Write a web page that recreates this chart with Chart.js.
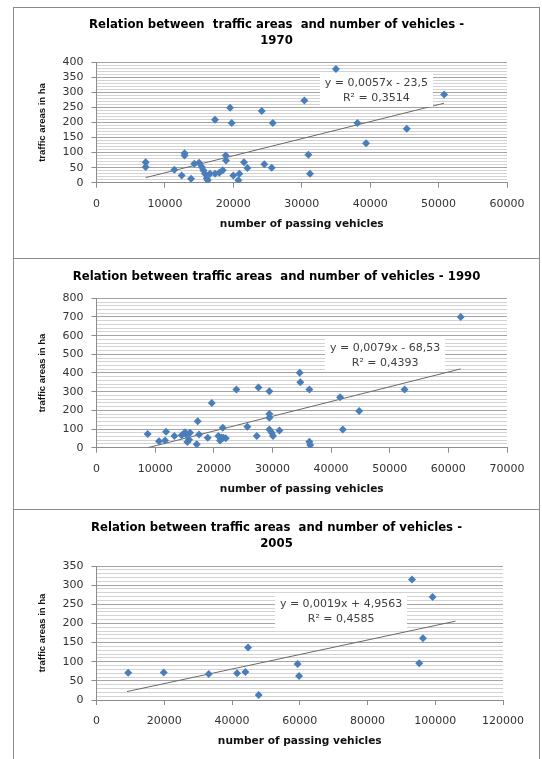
<!DOCTYPE html>
<html>
<head>
<meta charset="utf-8">
<script src="https://cdn.jsdelivr.net/npm/chart.js@4.4.1/dist/chart.umd.min.js"></script>
<style>
html,body{margin:0;padding:0;background:#fff;width:542px;height:759px;overflow:hidden}
.box{position:absolute;left:13px;width:527px;box-sizing:border-box;border:1px solid #8a8a8a;border-bottom:none;background:#fff}
.box canvas{position:absolute;left:0;top:0}
</style>
</head>
<body>
<div class="box" style="top:7px;height:251px"><canvas id="c1970" width="525" height="250"></canvas></div>
<div class="box" style="top:258px;height:251px"><canvas id="c1990" width="525" height="250"></canvas></div>
<div class="box" style="top:509px;height:250px"><canvas id="c2005" width="525" height="249"></canvas></div>
<script>
// ---------- DATA ----------
// 1970
const title1970 = ['Relation between  traffic areas  and number of vehicles -', '1970'];
const vehicles1970 = [7190, 7190, 11380, 12450, 12870, 12870, 13820, 14300, 14990, 15380, 15620, 15860, 16110, 16250, 16590, 17320, 17320, 17950, 18450, 18890, 18930, 19520, 19760, 20000, 20730, 20880, 21560, 22050, 24150, 24530, 25610, 25760, 30380, 30970, 31210, 35000, 38130, 39400, 45350, 50810];
const areas1970    = [68, 52, 43, 24, 98, 90, 13, 63, 66, 52, 41, 30, 15, 8, 30, 209, 30, 33, 41, 90, 74, 249, 198, 24, 8, 30, 68, 49, 238, 61, 50, 198, 273, 93, 30, 378, 198, 131, 179, 293];
const trendX1970 = [7190, 50800];
const trendY1970 = [17, 264];
const xTicks1970 = [0, 10000, 20000, 30000, 40000, 50000, 60000];
const yTicks1970 = [0, 50, 100, 150, 200, 250, 300, 350, 400];
const equation1970 = ['y = 0,0057x - 23,5', 'R\u00B2 = 0,3514'];

// 1990
const title1990 = ['Relation between traffic areas  and number of vehicles - 1990'];
const vehicles1990 = [8730, 10660, 11690, 11860, 13280, 14530, 15100, 15300, 15950, 15500, 15800, 17090, 17260, 17490, 18970, 19650, 20780, 21070, 21300, 21530, 21640, 22040, 23850, 25730, 27330, 27610, 29480, 29480, 29480, 29480, 29900, 30100, 31190, 34650, 34760, 36300, 36300, 36450, 41540, 42000, 44790, 52530, 62100];
const areas1990    = [74, 35, 39, 85, 62, 67, 83, 70, 80, 30, 42, 18, 142, 71, 53, 240, 62, 39, 55, 107, 53, 50, 311, 112, 62, 323, 302, 181, 160, 98, 80, 62, 92, 401, 350, 311, 32, 14, 270, 98, 196, 311, 700];
const trendX1990 = [8730, 62100];
const trendY1990 = [0, 422];
const xTicks1990 = [0, 10000, 20000, 30000, 40000, 50000, 60000, 70000];
const yTicks1990 = [0, 100, 200, 300, 400, 500, 600, 700, 800];
const equation1990 = ['y = 0,0079x - 68,53', 'R\u00B2 = 0,4393'];

// 2005
const title2005 = ['Relation between traffic areas  and number of vehicles -', '2005'];
const vehicles2005 = [9350, 19850, 33130, 41500, 43950, 44750, 47880, 59380, 59790, 93130, 95280, 96370, 99200];
const areas2005    = [71, 72, 68, 70, 73, 137, 13, 94, 63, 315, 96, 161, 269];
const trendX2005 = [9000, 106000];
const trendY2005 = [22, 206];
const xTicks2005 = [0, 20000, 40000, 60000, 80000, 100000, 120000];
const yTicks2005 = [0, 50, 100, 150, 200, 250, 300, 350];
const equation2005 = ['y = 0,0019x + 4,9563', 'R\u00B2 = 0,4585'];

const xTitle = 'number of passing vehicles';
const yTitle = 'traffic areas in ha';

// ---------- RENDERING ----------
const eqPlugin = {
  id: 'eqLabel',
  afterDraw(chart, args, o) {
    const {ctx} = chart;
    const xs = chart.scales.x, ys = chart.scales.y;
    const cx = xs.getPixelForValue(o.x), cy = ys.getPixelForValue(o.y);
    ctx.save();
    ctx.font = o.font;
    const w = Math.max(...o.lines.map(l => ctx.measureText(l).width)) + 2 * o.padX;
    const h = o.lineHeight * o.lines.length + 2 * o.padY;
    ctx.fillStyle = '#ffffff';
    ctx.fillRect(Math.round(cx - w / 2), Math.round(cy - h / 2), Math.round(w), Math.round(h));
    ctx.fillStyle = o.color;
    ctx.textAlign = 'center';
    ctx.textBaseline = 'middle';
    o.lines.forEach((l, i) => ctx.fillText(l, cx, cy - o.lineHeight * (o.lines.length - 1) / 2 + i * o.lineHeight));
    ctx.restore();
  }
};

function makeChart(id, d) {
  const pts = d.xs.map((v, i) => ({x: v, y: d.ys[i]}));
  const trend = d.tx.map((v, i) => ({x: v, y: d.ty[i]}));
  const yMajor = v => d.yTicks.some(t => Math.abs(t - v) < 1e-6);
  const xMajor = v => d.xTicks.some(t => Math.abs(t - v) < 1e-6);
  return new Chart(document.getElementById(id), {
    type: 'scatter',
    data: {
      datasets: [
        {label: 'points', data: pts, pointStyle: 'rectRot', pointRadius: 4, pointHoverRadius: 4,
         backgroundColor: '#4a7ebb', borderColor: '#4a7ebb', borderWidth: 0, order: 1},
        {label: 'trend', data: trend, showLine: true, pointRadius: 0, borderColor: '#6a6a6a',
         borderWidth: 1, fill: false, order: 2}
      ]
    },
    options: {
      responsive: false,
      devicePixelRatio: 1,
      animation: false,
      events: [],
      layout: {padding: 0},
      plugins: {
        legend: {display: false},
        tooltip: {enabled: false},
        title: {
          display: true, text: d.title, color: '#000',
          font: {family: 'DejaVu Sans', size: 11.7, weight: 'bold', lineHeight: '16px'},
          padding: {top: d.tPadTop, bottom: d.tPadBottom}
        },
        eqLabel: {x: d.eqX, y: d.eqY, lines: d.eq, font: '11px "DejaVu Sans"', color: '#404040',
                  lineHeight: 14.6, padX: 5, padY: 2}
      },
      scales: {
        x: {
          type: 'linear', position: 'bottom',
          min: d.xTicks[0], max: d.xTicks[d.xTicks.length - 1],
          ticks: {stepSize: d.xTicks[1] - d.xTicks[0], autoSkip: false, maxRotation: 0,
                  color: '#333', padding: 10,
                  font: {family: 'DejaVu Sans', size: 11},
                  callback: v => xMajor(v) ? String(v) : ''},
          grid: {display: true, drawOnChartArea: false, drawTicks: true, tickLength: 5, color: '#8c8c8c'},
          border: {display: true, color: '#8c8c8c'},
          title: {display: true, text: xTitle, color: '#111',
                  font: {family: 'DejaVu Sans', size: 10.6, weight: 'bold', lineHeight: 1.2},
                  padding: {top: 0, bottom: d.xTitlePad}},
          afterFit: s => { s.height = d.xH; }
        },
        y: {
          type: 'linear', position: 'left',
          min: d.yTicks[0], max: d.yTicks[d.yTicks.length - 1],
          ticks: {stepSize: d.yMinor, autoSkip: false, color: '#333', padding: 8,
                  font: {family: 'DejaVu Sans', size: 11},
                  callback: v => yMajor(v) ? String(v) : ''},
          grid: {
            drawTicks: true, tickLength: 5, lineWidth: 1,
            color: c => (c.tick && yMajor(c.tick.value)) ? '#a3a3a3' : '#d3d3d3',
            tickColor: c => (c.tick && yMajor(c.tick.value)) ? '#8c8c8c' : 'rgba(0,0,0,0)'
          },
          border: {display: true, color: '#8c8c8c'},
          title: {display: true, text: yTitle, color: '#111',
                  font: {family: '"Liberation Sans", Arial, sans-serif', size: 9.5, weight: 'bold', lineHeight: 1.2},
                  padding: {top: 23, bottom: 0}},
          afterFit: s => { s.width = d.yW; }
        },
        yR: {
          type: 'linear', position: 'right', display: true,
          ticks: {display: false}, grid: {display: false}, border: {display: false},
          afterFit: s => { s.width = d.rightW; }
        }
      }
    },
    plugins: [eqPlugin]
  });
}

makeChart('c1970', {
  title: title1970, xs: vehicles1970, ys: areas1970, tx: trendX1970, ty: trendY1970,
  xTicks: xTicks1970, yTicks: yTicks1970, yMinor: 10, eq: equation1970, eqX: 40900, eqY: 306,
  tPadTop: 9, tPadBottom: 13.3, xH: 75.3, xTitlePad: 27.6, yW: 82.5, rightW: 32
});
makeChart('c1990', {
  title: title1990, xs: vehicles1990, ys: areas1990, tx: trendX1990, ty: trendY1990,
  xTicks: xTicks1990, yTicks: yTicks1990, yMinor: 20, eq: equation1990, eqX: 49230, eqY: 492,
  tPadTop: 9.7, tPadBottom: 13.6, xH: 61.3, xTitlePad: 13.3, yW: 82.5, rightW: 32
});
makeChart('c2005', {
  title: title2005, xs: vehicles2005, ys: areas2005, tx: trendX2005, ty: trendY2005,
  xTicks: xTicks2005, yTicks: yTicks2005, yMinor: 10, eq: equation2005, eqX: 72210, eqY: 231,
  tPadTop: 10.3, tPadBottom: 13.7, xH: 59, xTitlePad: 10.9, yW: 82.5, rightW: 36
});
</script>
</body>
</html>
